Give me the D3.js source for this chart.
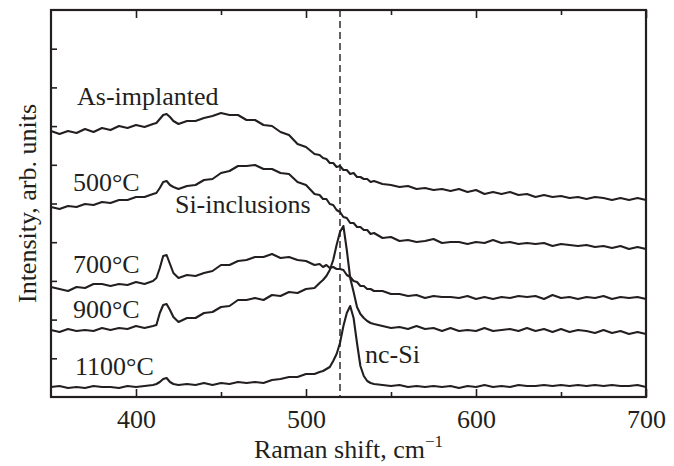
<!DOCTYPE html>
<html>
<head>
<meta charset="utf-8">
<script src="https://cdn.jsdelivr.net/npm/d3@7"></script>
<style>
  html, body { margin: 0; padding: 0; background: #ffffff; }
  svg { display: block; }
  text { font-family: "Liberation Serif", "Times New Roman", serif; fill: #231f20; }
</style>
</head>
<body>
<script>
// ---- Data (Raman shift in cm^-1, intensity in arbitrary units) ----
const shifts = [350,355,360,365,370,375,380,385,390,395,400,405,410,
  412,414,416,418,420,422,
  425,430,435,440,445,450,455,460,465,470,475,480,485,490,495,500,505,
  508,510,512,514,516,518,520,522,524,526,528,530,532,534,536,538,540,
  545,550,555,560,565,570,575,580,585,590,595,600,605,610,615,620,625,630,635,640,645,650,655,660,665,670,675,680,685,690,695,700];

const asImplanted = [266,263,266,264,268,265,269,267,271,269,272,270,273,
  274,278,282,283,280,276,
  273,276,276,279,281,284,282,282,277,277,272,271,265,262,253,250,243,
  242,239,238,234,234,230,231,227,227,223,224,220,220,218,218,215,216,
  213,212,210,211,208,209,207,208,206,208,205,207,203,205,203,205,202,203,200,202,200,201,199,200,198,200,199,197,199,197,199,197];

const t500 = [190,188,191,190,193,192,195,194,197,197,200,200,203,
  204,209,215,216,212,210,
  208,211,212,217,218,224,226,231,231,232,228,228,224,223,215,212,203,
  202,198,198,193,192,187,185,180,179,174,174,170,170,167,167,163,164,
  159,160,156,157,155,156,158,154,155,155,153,155,154,157,154,155,153,154,153,154,151,153,152,151,152,150,151,149,151,148,150,148];

const t700 = [110,108,106,110,109,113,113,111,113,112,115,113,116,
  119,129,141,142,133,124,
  119,122,121,124,126,132,132,136,137,140,140,143,139,140,137,136,132,
  133,130,132,129,130,128,128,127,122,120,116,115,111,111,108,108,106,
  106,103,103,101,102,99,101,100,100,99,101,98,100,98,100,99,101,100,101,98,102,99,100,98,100,99,101,98,100,99,100,98];

const t900 = [67,65,68,66,67,66,69,67,69,68,71,69,71,
  72,84,92,93,87,80,
  75,79,79,84,85,90,91,97,97,99,97,102,101,105,104,108,109,
  114,117,121,127,137,152,165,171,147,119,105,90,83,79,76,74,73,
  71,69,70,68,71,68,69,66,69,66,67,66,69,66,67,68,66,69,66,68,65,68,65,67,66,64,67,64,66,63,65,63];

const t1100 = [10,11,9,10,9,11,10,10,9,11,10,11,12,
  13,15,18,19,15,13,
  12,13,12,14,12,14,13,15,14,15,14,17,18,20,20,23,23,
  25,26,28,30,36,43,54,71,84,91,79,54,31,21,16,14,13,
  12,11,12,10,11,10,11,10,11,9,11,10,12,10,11,10,12,11,11,12,11,12,11,12,11,12,11,12,11,11,12,10];

const seriesList = [asImplanted, t500, t700, t900, t1100];

const xMajorTicks = [400, 500, 600, 700];
const xMinorTicks = [450, 550, 650];
const yTickCount = 10;           // ticks divide the intensity axis into 10 steps
const yMax = 387;                // arbitrary units
const referenceShift = 520;      // dashed line, bulk Si reference

const labels = [
  { text: "As-implanted",  x: 365.3, y: 292 },
  { text: "500°C",         x: 362.9, y: 206 },
  { text: "Si-inclusions", x: 422.9, y: 184 },
  { text: "700°C",         x: 362.9, y: 124 },
  { text: "900°C",         x: 362.9, y: 79 },
  { text: "1100°C",        x: 364.1, y: 22 },
  { text: "nc-Si",         x: 534.7, y: 34 }
];

// ---- Layout ----
const W = 674, H = 466;
const margin = { left: 51, right: 28, top: 10, bottom: 69 };
const ink = "#231f20";
const fs = 26;

const svg = d3.select("body").append("svg").attr("width", W).attr("height", H);

const x = d3.scaleLinear().domain([350, 700]).range([margin.left, W - margin.right]);
const y = d3.scaleLinear().domain([0, yMax]).range([H - margin.bottom, margin.top]);
const yTicks = d3.range(1, yTickCount).map(i => i * yMax / yTickCount);

const plotW = W - margin.left - margin.right;
const plotH = H - margin.top - margin.bottom;

// Axes (ticks pointing inward)
function styleAxis(g) {
  g.select(".domain").remove();
  g.selectAll(".tick line").attr("stroke", ink).attr("stroke-width", 1.6);
}

const bottomMajor = svg.append("g")
  .attr("transform", `translate(0,${H - margin.bottom})`)
  .call(d3.axisBottom(x).tickValues(xMajorTicks).tickSize(-8).tickFormat(d3.format("d")))
  .call(styleAxis);
bottomMajor.selectAll("text")
  .attr("y", 31).attr("dy", null)
  .attr("font-size", fs)
  .attr("font-family", "Liberation Serif, Times New Roman, serif")
  .attr("fill", ink);

svg.append("g")
  .attr("transform", `translate(0,${H - margin.bottom})`)
  .call(d3.axisBottom(x).tickValues(xMinorTicks).tickSize(-5).tickFormat(""))
  .call(styleAxis);

svg.append("g")
  .attr("transform", `translate(0,${margin.top})`)
  .call(d3.axisTop(x).tickValues(xMajorTicks).tickSize(-8).tickFormat(""))
  .call(styleAxis);

svg.append("g")
  .attr("transform", `translate(0,${margin.top})`)
  .call(d3.axisTop(x).tickValues(xMinorTicks).tickSize(-5).tickFormat(""))
  .call(styleAxis);

svg.append("g")
  .attr("transform", `translate(${margin.left},0)`)
  .call(d3.axisLeft(y).tickValues(yTicks).tickSize(-6).tickFormat(""))
  .call(styleAxis);

// Frame
svg.append("rect")
  .attr("x", margin.left).attr("y", margin.top)
  .attr("width", plotW).attr("height", plotH)
  .attr("fill", "none").attr("stroke", ink).attr("stroke-width", 2.2);

// Reference dashed line
svg.append("line")
  .attr("x1", x(referenceShift)).attr("x2", x(referenceShift))
  .attr("y1", y(yMax)).attr("y2", y(0))
  .attr("stroke", ink).attr("stroke-width", 1.4)
  .attr("stroke-dasharray", "7,4");

// Spectra
const line = d3.line()
  .x((d, i) => x(shifts[i]))
  .y(d => y(d));

svg.append("g").selectAll("path")
  .data(seriesList)
  .join("path")
  .attr("d", d => line(d))
  .attr("fill", "none")
  .attr("stroke", ink)
  .attr("stroke-width", 2.1)
  .attr("stroke-linejoin", "round")
  .attr("stroke-linecap", "round");

// Curve labels
svg.append("g").selectAll("text")
  .data(labels)
  .join("text")
  .attr("x", d => x(d.x))
  .attr("y", d => y(d.y))
  .attr("font-size", fs)
  .text(d => d.text);

// Axis titles
const xt = svg.append("text")
  .attr("x", (margin.left + W - margin.right) / 2)
  .attr("y", 458)
  .attr("text-anchor", "middle")
  .attr("font-size", fs);
xt.append("tspan").text("Raman shift, cm");
xt.append("tspan").attr("dy", -11).attr("font-size", 17).text("\u22121");

svg.append("text")
  .attr("transform", `translate(36,${(margin.top + H - margin.bottom) / 2}) rotate(-90)`)
  .attr("text-anchor", "middle")
  .attr("font-size", fs)
  .text("Intensity, arb. units");
</script>
</body>
</html>
